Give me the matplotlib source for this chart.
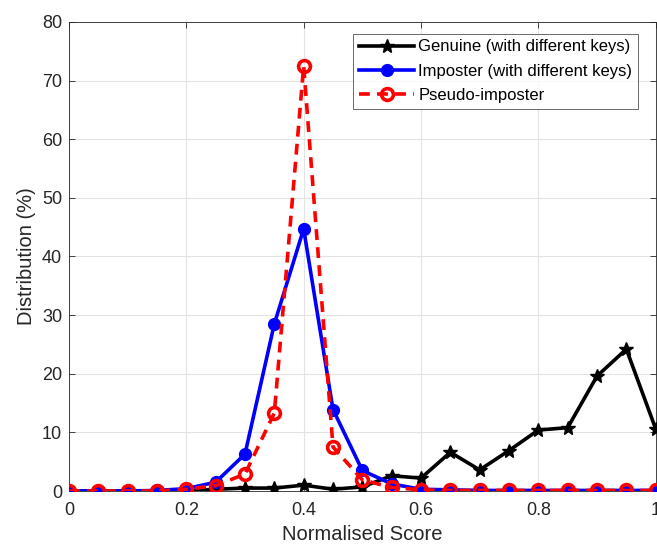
import numpy as np
import matplotlib.pyplot as plt

# ── DATA ──────────────────────────────────────────────────────────────────────
score = [0, 0.05, 0.1, 0.15, 0.2, 0.25, 0.3, 0.35, 0.4, 0.45, 0.5,
         0.55, 0.6, 0.65, 0.7, 0.75, 0.8, 0.85, 0.9, 0.95, 1.0]

genuine = [0, 0, 0, 0, 0, 0.3, 0.5, 0.5, 1.0, 0.3, 0.7,
           2.6, 2.2, 6.6, 3.6, 6.9, 10.4, 10.8, 19.6, 24.2, 10.6]

imposter = [0, 0, 0, 0.1, 0.4, 1.5, 6.3, 28.5, 44.7, 13.9, 3.5,
            1.2, 0.3, 0.2, 0.1, 0.1, 0.1, 0.1, 0.1, 0.1, 0.1]

pseudo = [0, 0, 0, 0, 0.3, 0.9, 2.9, 13.3, 72.5, 7.5, 1.9,
          0.6, 0.2, 0.1, 0.1, 0.1, 0.1, 0.1, 0.1, 0.1, 0.1]

labels = ["Genuine (with different keys)",
          "Imposter (with different keys)",
          "Pseudo-imposter"]

AX_COL = "#262626"
plt.rcParams.update({
    "font.family": ["Liberation Sans", "DejaVu Sans"],
    "font.size": 13,
    "axes.edgecolor": AX_COL,
    "xtick.color": AX_COL,
    "ytick.color": AX_COL,
    "xtick.direction": "in",
    "ytick.direction": "in",
})

fig = plt.figure(figsize=(6.57, 5.48), dpi=100)
ax = fig.add_axes([0.105, 0.104, 0.893, 0.856])

ax.plot(score, genuine, color="black", lw=2.6, marker="*", ms=10,
        label=labels[0], zorder=3)
ax.plot(score, imposter, color="#0000ff", lw=2.6, marker="o", ms=8.5,
        label=labels[1], zorder=4)
ax.plot(score, pseudo, color="#ff0000", lw=2.6, ls=(0, (3, 2)), marker="o",
        ms=8.5, mfc="none", mew=2.6, label=labels[2], zorder=5)

ax.set_xlim(0, 1)
ax.set_ylim(0, 80)
ax.set_xticks(np.arange(0, 1.01, 0.2))
ax.set_xticklabels(["0", "0.2", "0.4", "0.6", "0.8", "1"])
ax.set_yticks(np.arange(0, 81, 10))
ax.tick_params(axis="both", labelsize=13, length=4, width=0.6, top=True,
               right=True, labeltop=False, labelright=False)
ax.tick_params(axis="x", pad=8)
ax.tick_params(axis="y", pad=5)
ax.grid(True, color="#e3e3e3", lw=0.8)
ax.set_axisbelow(True)
for s in ax.spines.values():
    s.set_linewidth(0.6)

ax.set_xlabel("Normalised Score", fontsize=14.5, color=AX_COL, labelpad=4)
ax.set_ylabel("Distribution (%)", fontsize=14.5, color=AX_COL, labelpad=4)

leg = ax.legend(loc="upper right", bbox_to_anchor=(0.97, 0.975),
                fontsize=12, handlelength=3.3, frameon=True, fancybox=False,
                borderpad=0.35, labelspacing=0.55, handletextpad=0.25,
                borderaxespad=0)
leg.get_frame().set_edgecolor(AX_COL)
leg.get_frame().set_linewidth(0.6)

fig.savefig("out.png", dpi=100)
